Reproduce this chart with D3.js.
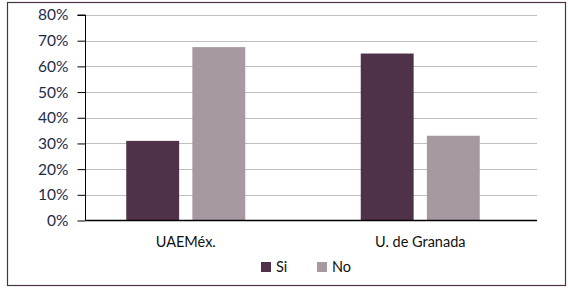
<!DOCTYPE html>
<html>
<head>
<meta charset="utf-8">
<script src="https://cdn.jsdelivr.net/npm/d3@7"></script>
<style>
  body { margin: 0; background: #fff; }
  svg text { font-family: "Lato", "Open Sans", sans-serif; }
</style>
</head>
<body>
<svg id="chart" width="568" height="288"></svg>
<script>
const categories = ["UAEMéx.", "U. de Granada"];
const seriesNames = ["Si", "No"];
const siValues = [31, 65];
const noValues = [67.5, 33];
const yTicks = [0, 10, 20, 30, 40, 50, 60, 70, 80];
const colors = ["#4f3249", "#a799a2"];

const svg = d3.select("#chart");

// outer frame
svg.append("rect")
    .attr("x", 7.5).attr("y", 2.5)
    .attr("width", 558).attr("height", 283)
    .attr("fill", "none")
    .attr("stroke", "#4a3448")
    .attr("stroke-width", 1.2);

const axisX = 85.5, plotRight = 537;

const yScale = d3.scaleLinear()
    .domain([0, 80])
    .range([220.5, 15]);

const xScale = d3.scaleBand()
    .domain(categories)
    .range([68.5, 537.5]);

const xInner = d3.scaleBand()
    .domain(seriesNames)
    .range([0, 119])
    .paddingInner(0.2);

// gridlines
svg.append("g")
    .selectAll("line")
    .data(yTicks.slice(1))
    .join("line")
    .attr("x1", axisX).attr("x2", plotRight)
    .attr("y1", d => Math.round(yScale(d)) + 0.5)
    .attr("y2", d => Math.round(yScale(d)) + 0.5)
    .attr("stroke", "#bfbfbf")
    .attr("stroke-width", 1);

// bars
const data = categories.map((c, i) => ({ cat: c, vals: [siValues[i], noValues[i]] }));
const groups = svg.append("g")
    .selectAll("g")
    .data(data)
    .join("g")
    .attr("transform", d => "translate(" + (xScale(d.cat) + xScale.bandwidth() / 2 - 59.5) + ",0)");

groups.selectAll("rect")
    .data(d => d.vals.map((v, j) => ({ v: v, s: seriesNames[j], j: j })))
    .join("rect")
    .attr("x", d => xInner(d.s))
    .attr("width", xInner.bandwidth())
    .attr("y", d => yScale(d.v))
    .attr("height", d => yScale(0) - yScale(d.v))
    .attr("fill", d => colors[d.j]);

// y axis
const yAxis = d3.axisLeft(yScale)
    .tickValues(yTicks)
    .tickSize(8)
    .tickPadding(9)
    .tickFormat(d => d + "%");

const yG = svg.append("g")
    .attr("transform", "translate(" + axisX + ",0)")
    .call(yAxis);
yG.select(".domain").attr("stroke", "#000").attr("d", "M-8," + yScale(80) + "H0V" + yScale(0));
yG.selectAll(".tick line").attr("stroke", "#000");
yG.selectAll(".tick text")
    .attr("fill", "#1c2a4a")
    .style("font-size", "15.5px");

// x baseline
svg.append("line")
    .attr("x1", axisX).attr("x2", plotRight)
    .attr("y1", yScale(0)).attr("y2", yScale(0))
    .attr("stroke", "#000")
    .attr("stroke-width", 1.5);

// category labels
svg.append("g")
    .selectAll("text")
    .data(categories)
    .join("text")
    .attr("x", d => xScale(d) + xScale.bandwidth() / 2)
    .attr("y", 247)
    .attr("text-anchor", "middle")
    .attr("fill", "#111")
    .style("font-size", "14.5px")
    .text(d => d);

// legend
const legendX = [261, 317];
const legend = svg.append("g")
    .selectAll("g")
    .data(seriesNames)
    .join("g")
    .attr("transform", (d, i) => "translate(" + legendX[i] + ",262)");

legend.append("rect")
    .attr("width", 10).attr("height", 10)
    .attr("fill", (d, i) => colors[i]);

legend.append("text")
    .attr("x", 15).attr("y", 10)
    .attr("fill", "#111")
    .style("font-size", "14.5px")
    .text(d => d);
</script>
</body>
</html>
